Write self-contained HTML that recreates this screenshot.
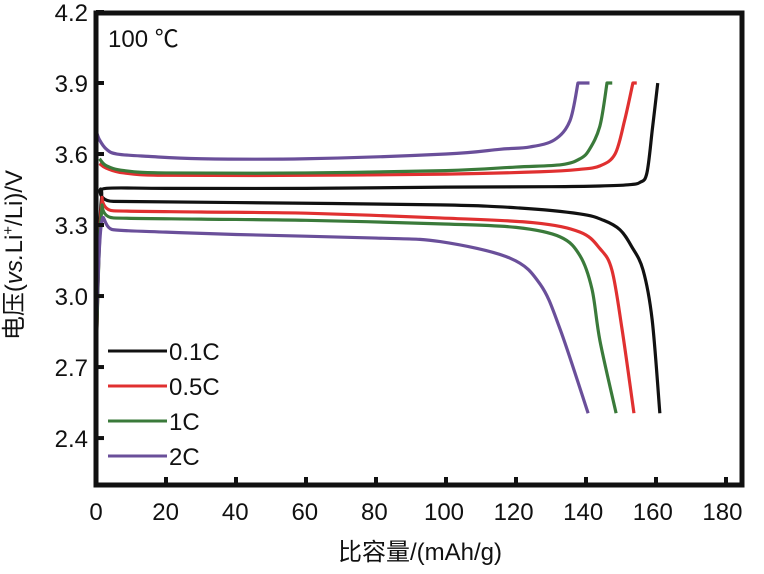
<!DOCTYPE html>
<html><head><meta charset="utf-8"><style>
body{margin:0;background:#fff}
text{font-family:"Liberation Sans","Noto Sans CJK SC",sans-serif;fill:#111}
</style></head><body>
<svg width="764" height="569">
<g id="plot"></g>
<rect x="96" y="13" width="646" height="472" fill="none" stroke="#111" stroke-width="5"/>
<g id="axes" font-size="24"></g>
<text x="108" y="47" font-size="24">100 ℃</text>
<text x="420" y="560" font-size="24" text-anchor="middle">比容量/(mAh/g)</text>
<text transform="translate(22,255) rotate(-90)" font-size="24" text-anchor="middle">电压(<tspan font-style="italic">vs.</tspan>Li<tspan font-size="15" dy="-9">+</tspan><tspan dy="9">/Li)/V</tspan></text>
<g id="legend" font-size="24"></g>
</svg>
<script>
const xTicks=[0,20,40,60,80,100,120,140,160,180];
const yTicks=[2.4,2.7,3.0,3.3,3.6,3.9,4.2];
const seriesNames=["0.1C","0.5C","1C","2C"];
const colors=["#111","#e03030","#3a7a3a","#6a4f9a"];
const chargeCap=[
 [1.5,3,20,60,100,130,144,152,155.4,157.4,159,160.5],
 [1,3,8,20,60,100,127,138,144,148.3,151,153.4],
 [1,3,8,20,60,100,120,133,138.3,141,144,146],
 [0,1,3,6,15,30,60,100,115.4,124,131,135.4,137.7]];
const chargeV=[
 [3.43,3.455,3.455,3.455,3.46,3.462,3.465,3.47,3.48,3.52,3.71,3.9],
 [3.56,3.54,3.52,3.51,3.51,3.515,3.525,3.535,3.55,3.6,3.74,3.9],
 [3.58,3.55,3.53,3.52,3.52,3.53,3.545,3.555,3.58,3.62,3.72,3.9],
 [3.7,3.66,3.62,3.6,3.59,3.58,3.58,3.6,3.62,3.63,3.66,3.74,3.9]];
const hookCap=[160.5,154.5,147.5,141];
const dischCap=[
 [0,1.5,5,40,98.3,121,138.3,145,149.7,153,156.3,158.9,161.1],
 [0,1.5,5,30,60,98.3,125,138.3,144,147.4,150.3,153.7],
 [0,1.5,5,30,60,98.3,120,132.6,138.3,141.7,144,148.6],
 [0,1.5,5,20,40,80,98.3,118.3,126.9,132.6,140.6]];
const dischV=[
 [2.7,3.4,3.4,3.395,3.385,3.372,3.347,3.32,3.28,3.21,3.11,2.9,2.505],
 [2.7,3.37,3.36,3.355,3.35,3.33,3.31,3.27,3.2,3.11,2.86,2.505],
 [2.7,3.34,3.33,3.325,3.32,3.305,3.29,3.25,3.17,3.03,2.81,2.505],
 [2.8,3.3,3.28,3.27,3.26,3.245,3.23,3.16,3.05,2.86,2.505]];
const X=v=>96+v*3.5, Y=v=>12+(4.2-v)*236.7;
const NS="http://www.w3.org/2000/svg";
const plot=document.getElementById('plot'),axes=document.getElementById('axes'),leg=document.getElementById('legend');
function mk(t,a,p){const e=document.createElementNS(NS,t);for(const k in a)e.setAttribute(k,a[k]);p.appendChild(e);return e;}
function smooth(xs,ys){
 const p=xs.map((x,i)=>[X(x),Y(ys[i])]);
 let d='M'+p[0][0]+','+p[0][1];
 for(let i=0;i<p.length-1;i++){
  const p0=p[i-1]||p[i],p1=p[i],p2=p[i+1],p3=p[i+2]||p2;
  const c1=[p1[0]+(p2[0]-p0[0])/6,p1[1]+(p2[1]-p0[1])/6];
  const c2=[p2[0]-(p3[0]-p1[0])/6,p2[1]-(p3[1]-p1[1])/6];
  d+=' C'+c1+' '+c2+' '+p2;
 }
 return d;
}
for(let s=0;s<4;s++){
 const last=chargeV[s][chargeV[s].length-1];
 const cd=smooth(chargeCap[s],chargeV[s])+' L'+X(hookCap[s])+','+Y(last);
 const c=mk('path',{d:cd,fill:'none',stroke:colors[s],'stroke-width':3.2,'stroke-linejoin':'round'},plot);
 
 
 const d=mk('path',{d:smooth(dischCap[s],dischV[s]),fill:'none',stroke:colors[s],'stroke-width':3.2,'stroke-linejoin':'round'},plot);
 
 
 const y=351+s*35;
 const l=mk('line',{x1:108,x2:167,y1:y,y2:y,stroke:colors[s],'stroke-width':3},leg);
 
 
 const t=mk('text',{x:169,y:y+9},leg);t.textContent=seriesNames[s];
 
 
}
xTicks.forEach(v=>{
 const tk=mk('line',{x1:X(v),x2:X(v),y1:485,y2:477,stroke:'#111','stroke-width':4},axes);
 
 
 const t=mk('text',{x:96+v*3.48,y:520,'text-anchor':'middle'},axes);t.textContent=v;
 
 
});
yTicks.forEach(v=>{
 const tk=mk('line',{x1:96,x2:104,y1:Y(v),y2:Y(v),stroke:'#111','stroke-width':4},axes);
 
 
 const t=mk('text',{x:88,y:Y(v)+9,'text-anchor':'end'},axes);t.textContent=v.toFixed(1);
 
 
});
</script>
</body></html>
